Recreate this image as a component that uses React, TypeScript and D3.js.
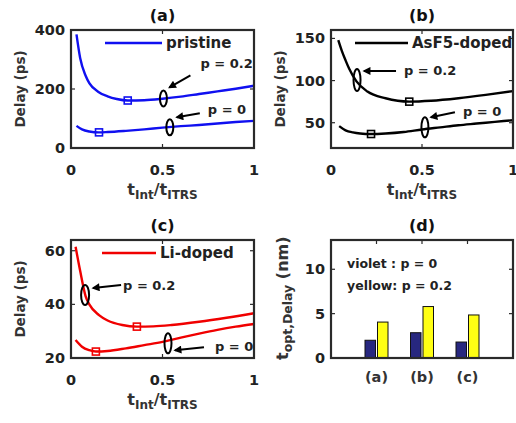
import React from 'react'
import * as d3 from 'd3'

// panel (a) pristine
const tA2 = [0.03, 0.05, 0.08, 0.1, 0.15, 0.2, 0.25, 0.31, 0.4, 0.5, 0.6, 0.7, 0.8, 0.9, 1.0]
const dA2 = [385, 305, 245, 220, 190, 175, 166, 161, 162, 167, 174, 183, 192, 201, 211]
const tA0 = [0.03, 0.06, 0.1, 0.153, 0.2, 0.3, 0.4, 0.5, 0.6, 0.7, 0.8, 0.9, 1.0]
const dA0 = [75, 63, 56, 53, 54, 58, 63, 69, 74, 78, 83, 88, 92]
const optA = [[0.31, 161], [0.153, 53]]

// panel (b) AsF5-doped
const tB2 = [0.04, 0.06, 0.08, 0.1, 0.14, 0.2, 0.3, 0.43, 0.55, 0.7, 0.85, 1.0]
const dB2 = [148, 135, 124, 114, 99, 87, 79, 75, 76, 79, 83, 87.5]
const tB0 = [0.045, 0.08, 0.12, 0.16, 0.22, 0.3, 0.4, 0.5, 0.6, 0.7, 0.8, 0.9, 1.0]
const dB0 = [46, 41, 38.5, 37.2, 36.6, 37.2, 39, 42, 44.5, 47, 49, 51, 53]
const optB = [[0.43, 75], [0.22, 36.6]]

// panel (c) Li-doped
const tC2 = [0.025, 0.05, 0.08, 0.1, 0.153, 0.2, 0.28, 0.36, 0.45, 0.55, 0.7, 0.85, 1.0]
const dC2 = [61.5, 52.5, 43, 40, 36, 34, 32.3, 31.7, 31.8, 32.3, 33.5, 35, 36.7]
const tC0 = [0.025, 0.06, 0.1, 0.136, 0.2, 0.3, 0.4, 0.5, 0.6, 0.7, 0.8, 0.9, 1.0]
const dC0 = [26.7, 24.2, 22.9, 22.4, 22.6, 23.6, 24.8, 26.0, 27.6, 29.1, 30.5, 31.7, 32.7]
const optC = [[0.36, 31.7], [0.136, 22.4]]

// panel (d) optimum thickness
const barCats = ['(a)', '(b)', '(c)']
const barP0 = [2.0, 2.85, 1.8]
const barP2 = [4.05, 5.8, 4.85]

const xTicks = [0, 0.5, 1]
const FONT = 'DejaVu Sans, Arial, sans-serif'
const FRAME = '#2a2a2a'
const TXT = '#222'

function zip(t: number[], d: number[]) {
  return t.map((v, i) => [v, d[i]] as [number, number])
}

function Frame({ x0, x1, y0, y1 }: any) {
  return <rect x={x0} y={y0} width={x1 - x0} height={y1 - y0} fill="none" stroke={FRAME} strokeWidth={2.2} />
}

function Annot({ cx, cy, rx, ry, tail, head, text, label }: any) {
  return (
    <g>
      <ellipse cx={cx} cy={cy} rx={rx} ry={ry} fill="none" stroke="#000" strokeWidth={2} />
      <line x1={cx + tail[0]} y1={cy + tail[1]} x2={cx + head[0]} y2={cy + head[1]} stroke="#000" strokeWidth={2} markerEnd="url(#arrowHead)" />
      <text x={cx + text[0]} y={cy + text[1]} fontFamily={FONT} fontWeight="bold" fontSize={13} fill={TXT}>{label}</text>
    </g>
  )
}

function LinePanel({ box, yDomain, yTicks, up, low, opt, color, title, legend, annots }: any) {
  const x = d3.scaleLinear().domain([0, 1]).range([box.x0, box.x1])
  const y = d3.scaleLinear().domain(yDomain).range([box.y1, box.y0])
  const line = d3.line<[number, number]>().x(d => x(d[0])).y(d => y(d[1])).curve(d3.curveMonotoneX)
  const midX = (box.x0 + box.x1) / 2
  return (
    <g>
      <text x={midX} y={box.y0 - 9} textAnchor="middle" fontFamily={FONT} fontWeight="bold" fontSize={16} fill="#111">{title}</text>
      <path d={line(up) || ''} fill="none" stroke={color} strokeWidth={2.4} />
      <path d={line(low) || ''} fill="none" stroke={color} strokeWidth={2.4} />
      {opt.map((p: number[], i: number) => (
        <rect key={i} x={x(p[0]) - 3.5} y={y(p[1]) - 3.5} width={7} height={7} fill="none" stroke={color} strokeWidth={1.6} />
      ))}
      <line x1={legend.x0} x2={legend.x1} y1={legend.y} y2={legend.y} stroke={color} strokeWidth={2.4} />
      <text x={legend.x1 + 4} y={legend.y + 5} fontFamily={FONT} fontWeight="bold" fontSize={15} fill={TXT}>{legend.label}</text>
      {annots.map((a: any, i: number) => (
        <Annot key={i} cx={x(a.t)} cy={y(a.v)} rx={a.rx} ry={a.ry} tail={a.tail} head={a.head} text={a.text} label={a.label} />
      ))}
      {xTicks.map(t => (
        <g key={t}>
          <line x1={x(t)} x2={x(t)} y1={box.y1} y2={box.y1 - 4} stroke={FRAME} strokeWidth={1.2} />
          <line x1={x(t)} x2={x(t)} y1={box.y0} y2={box.y0 + 4} stroke={FRAME} strokeWidth={1.2} />
          <text x={x(t)} y={box.y1 + 27} textAnchor="middle" fontFamily={FONT} fontWeight="bold" fontSize={14.5} fill={TXT}>{t}</text>
        </g>
      ))}
      {yTicks.map((v: number) => (
        <g key={v}>
          <line x1={box.x0} x2={box.x0 + 4} y1={y(v)} y2={y(v)} stroke={FRAME} strokeWidth={1.2} />
          <line x1={box.x1} x2={box.x1 - 4} y1={y(v)} y2={y(v)} stroke={FRAME} strokeWidth={1.2} />
          <text x={box.x0 - 6} y={y(v) + 5} textAnchor="end" fontFamily={FONT} fontWeight="bold" fontSize={14.5} fill={TXT}>{v}</text>
        </g>
      ))}
      <Frame {...box} />
      <text transform={`translate(${box.x0 - 46},${(box.y0 + box.y1) / 2}) rotate(-90)`} textAnchor="middle" fontFamily={FONT} fontWeight="bold" fontSize={13.5} fill="#333">Delay (ps)</text>
      <text x={midX} y={box.y1 + 47} textAnchor="middle" fontFamily={FONT} fontWeight="bold" fontSize={16} fill="#333">
        t<tspan dy={4} fontSize={12}>Int</tspan><tspan dy={-4}>/t</tspan><tspan dy={4} fontSize={12}>ITRS</tspan>
      </text>
    </g>
  )
}

function BarPanel({ box }: any) {
  const x = d3.scaleLinear().domain([0, 4]).range([box.x0, box.x1])
  const y = d3.scaleLinear().domain([0, 13.3]).range([box.y1, box.y0])
  const bw = 10.5
  return (
    <g>
      <text x={(box.x0 + box.x1) / 2} y={box.y0 - 9} textAnchor="middle" fontFamily={FONT} fontWeight="bold" fontSize={16} fill="#111">(d)</text>
      {barCats.map((c, i) => (
        <g key={c}>
          <rect x={x(i + 1) - bw - 1} y={y(barP0[i])} width={bw} height={y(0) - y(barP0[i])} fill="#27277f" stroke="#111" strokeWidth={1} />
          <rect x={x(i + 1) + 1} y={y(barP2[i])} width={bw} height={y(0) - y(barP2[i])} fill="#ffff14" stroke="#111" strokeWidth={1} />
          <line x1={x(i + 1)} x2={x(i + 1)} y1={box.y0} y2={box.y0 + 4} stroke={FRAME} strokeWidth={1.2} />
          <text x={x(i + 1)} y={box.y1 + 24} textAnchor="middle" fontFamily={FONT} fontWeight="bold" fontSize={14.5} fill="#333">{c}</text>
        </g>
      ))}
      {[0, 5, 10].map(v => (
        <g key={v}>
          <line x1={box.x0} x2={box.x0 + 4} y1={y(v)} y2={y(v)} stroke={FRAME} strokeWidth={1.2} />
          <line x1={box.x1} x2={box.x1 - 4} y1={y(v)} y2={y(v)} stroke={FRAME} strokeWidth={1.2} />
          <text x={box.x0 - 6} y={y(v) + 5} textAnchor="end" fontFamily={FONT} fontWeight="bold" fontSize={14.5} fill={TXT}>{v}</text>
        </g>
      ))}
      <Frame {...box} />
      <text x={box.x0 + 16} y={box.y0 + 28} fontFamily={FONT} fontWeight="bold" fontSize={12.5} fill={TXT}>violet : p = 0</text>
      <text x={box.x0 + 16} y={box.y0 + 50} fontFamily={FONT} fontWeight="bold" fontSize={12.5} fill={TXT}>yellow: p = 0.2</text>
      <text transform={`translate(${box.x0 - 43},${box.y1 + 2}) rotate(-90)`} textAnchor="start" fontFamily={FONT} fontWeight="bold" fontSize={16} fill="#333">
        t<tspan dy={4} fontSize={12.5}>opt,Delay</tspan><tspan dy={-4}> (nm)</tspan>
      </text>
    </g>
  )
}

export default function App() {
  const L = { x0: 71, x1: 254 }
  const R = { x0: 331, x1: 513 }
  const T = { y0: 30, y1: 148 }
  const B = { y0: 240, y1: 358 }
  return (
    <svg width={516} height={423} viewBox="0 0 516 423" style={{ position: 'absolute', left: 0, top: 0, background: '#fff' }}>
      <defs>
        <marker id="arrowHead" viewBox="0 0 10 10" refX={8} refY={5} markerWidth={4.5} markerHeight={4} orient="auto">
          <path d="M0,0 L10,5 L0,10 z" fill="#000" />
        </marker>
      </defs>
      <rect width={516} height={423} fill="#fff" />
      <LinePanel
        box={{ ...L, ...T }} yDomain={[0, 400]} yTicks={[0, 200, 400]}
        up={zip(tA2, dA2)} low={zip(tA0, dA0)} opt={optA} color="#1010f0" title="(a)"
        legend={{ x0: 105, x1: 162, y: 43, label: 'pristine' }}
        annots={[
          { t: 0.505, v: 168, rx: 3.5, ry: 8, tail: [27, -23], head: [6, -11], text: [37, -30], label: 'p = 0.2' },
          { t: 0.54, v: 70, rx: 3.5, ry: 8, tail: [30, -14], head: [7, -10], text: [38, -13], label: 'p = 0' },
        ]}
      />
      <LinePanel
        box={{ ...R, ...T }} yDomain={[20, 160]} yTicks={[50, 100, 150]}
        up={zip(tB2, dB2)} low={zip(tB0, dB0)} opt={optB} color="#000" title="(b)"
        legend={{ x0: 355, x1: 408, y: 43, label: 'AsF5-doped' }}
        annots={[
          { t: 0.143, v: 100.7, rx: 3.5, ry: 11, tail: [39, -9], head: [7, -9], text: [47, -5], label: 'p = 0.2' },
          { t: 0.516, v: 44.6, rx: 3.5, ry: 10, tail: [30, -15], head: [6, -10], text: [38, -11], label: 'p = 0' },
        ]}
      />
      <LinePanel
        box={{ ...L, ...B }} yDomain={[20, 64]} yTicks={[20, 40, 60]}
        up={zip(tC2, dC2)} low={zip(tC0, dC0)} opt={optC} color="#f00000" title="(c)"
        legend={{ x0: 102, x1: 156, y: 253, label: 'Li-doped' }}
        annots={[
          { t: 0.077, v: 43.5, rx: 4, ry: 10, tail: [36, -10], head: [8, -7], text: [38, -5], label: 'p = 0.2' },
          { t: 0.53, v: 25.5, rx: 3.5, ry: 10, tail: [36, 4], head: [7, 7], text: [47, 8], label: 'p = 0' },
        ]}
      />
      <BarPanel box={{ ...R, ...B }} />
    </svg>
  )
}
